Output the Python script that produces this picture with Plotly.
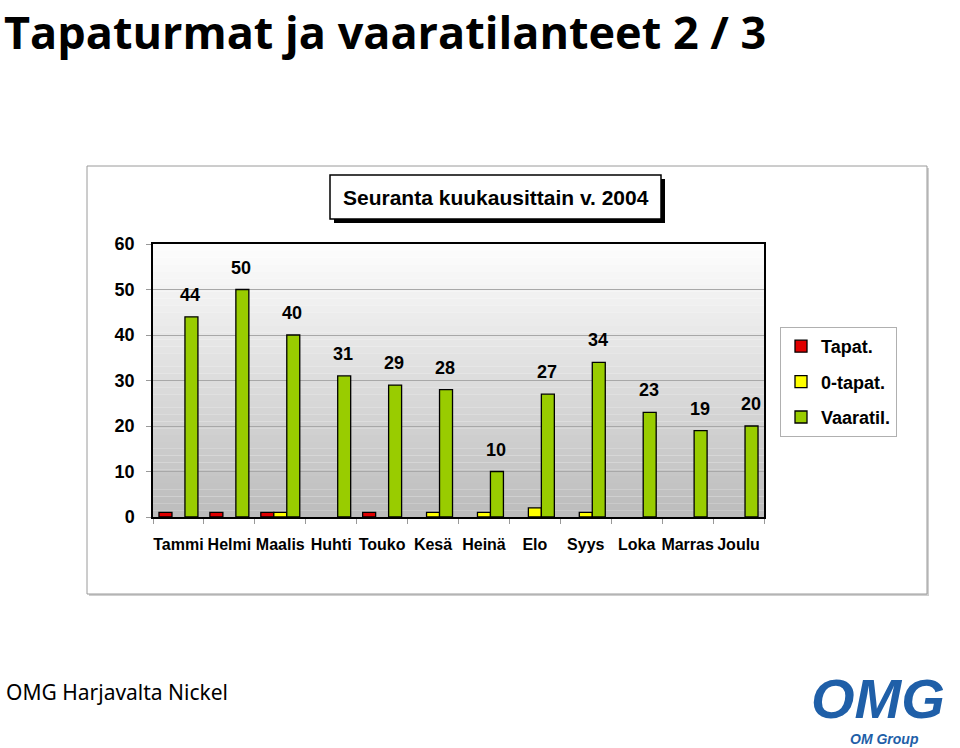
import plotly.graph_objects as go

months = ["Tammi", "Helmi", "Maalis", "Huhti", "Touko", "Kesä", "Heinä", "Elo", "Syys", "Loka", "Marras", "Joulu"]
tapat = [1, 1, 1, 0, 1, 0, 0, 0, 0, 0, 0, 0]
nolla_tapat = [0, 0, 1, 0, 0, 1, 1, 2, 1, 0, 0, 0]
vaaratil = [44, 50, 40, 31, 29, 28, 10, 27, 34, 23, 19, 20]
y_ticks = [0, 10, 20, 30, 40, 50, 60]

W, H = 960, 748
L, R, T, B = 153, 764, 244, 517  # plot area in pixels


def px(x):
    return (x - L) / (R - L)


def py(y):
    return (B - y) / (B - T)


def nz(vals):
    # zero values draw no bar (as in the original chart)
    return [v if v else None for v in vals]


FONT = "Liberation Sans"

fig = go.Figure()
fig.add_trace(go.Bar(x=months, y=nz(tapat), name="Tapat.", legendgroup="a",
                     marker=dict(color="#e00000", line=dict(color="black", width=1.3))))
fig.add_trace(go.Bar(x=months, y=nz(nolla_tapat), name="0-tapat.", legendgroup="b",
                     marker=dict(color="#ffff00", line=dict(color="black", width=1.3))))
fig.add_trace(go.Bar(x=months, y=nz(vaaratil), name="Vaaratil.", legendgroup="c",
                     marker=dict(color="#99cc00", line=dict(color="black", width=1.3))))

shapes = []
# outer chart frame (with faint shadow)
shapes.append(dict(type="rect", xref="paper", yref="paper", x0=px(89), x1=px(929), y0=py(596), y1=py(168),
                   fillcolor="#cfcfcf", line=dict(width=0), layer="below"))
shapes.append(dict(type="rect", xref="paper", yref="paper", x0=px(87), x1=px(927), y0=py(594), y1=py(166),
                   fillcolor="white", line=dict(color="#9a9a9a", width=1), layer="below"))
# gradient background of plot area
n = 40
for i in range(n):
    t = i / (n - 1)
    c = int(round(253 - t * (253 - 188)))
    shapes.append(dict(type="rect", xref="x domain", yref="y domain", x0=0, x1=1,
                       y0=1 - (i + 1) / n, y1=1 - i / n, fillcolor=f"rgb({c},{c},{c})",
                       line=dict(width=0), layer="below"))
# chart title box with shadow
shapes.append(dict(type="rect", xref="paper", yref="paper", x0=px(334), x1=px(665), y0=py(223), y1=py(179),
                   fillcolor="black", line=dict(width=0), layer="above"))
shapes.append(dict(type="rect", xref="paper", yref="paper", x0=px(330), x1=px(661), y0=py(219), y1=py(175),
                   fillcolor="white", line=dict(color="black", width=1.5), layer="above"))

annotations = []
for m, v in zip(months, vaaratil):
    annotations.append(dict(x=m, y=v, xref="x", yref="y", text=str(v), showarrow=False,
                            xshift=12, yshift=10, yanchor="bottom",
                            font=dict(family=FONT, size=18, color="black", weight="bold")))

annotations.append(dict(x=px(495.5), y=py(197), xref="paper", yref="paper", text="Seuranta kuukausittain v. 2004",
                        showarrow=False, xanchor="center", yanchor="middle",
                        font=dict(family=FONT, size=21, color="black", weight="bold")))

# page title
annotations.append(dict(x=px(3), y=py(0), xref="paper", yref="paper", text="Tapaturmat ja vaaratilanteet 2 / 3",
                        showarrow=False, xanchor="left", yanchor="top", borderpad=0,
                        font=dict(family="Open Sans", size=45, color="black", weight="bold")))
# footer
annotations.append(dict(x=px(4), y=py(692), xref="paper", yref="paper", text="OMG Harjavalta Nickel",
                        showarrow=False, xanchor="left", yanchor="middle",
                        font=dict(family="Noto Sans", size=21, color="black")))
# logo (approximation)
annotations.append(dict(x=px(878), y=py(698), xref="paper", yref="paper", text="<i><b>OMG</b></i>",
                        showarrow=False, xanchor="center", yanchor="middle",
                        font=dict(family="Liberation Sans", size=56, color="#1f5fa8")))
annotations.append(dict(x=px(884), y=py(739), xref="paper", yref="paper", text="<i><b>OM Group</b></i>",
                        showarrow=False, xanchor="center", yanchor="middle",
                        font=dict(family="Liberation Sans", size=14, color="#1f5fa8")))

fig.update_layout(
    width=W, height=H,
    margin=dict(l=L, r=W - R, t=T, b=H - B, pad=0),
    paper_bgcolor="white", plot_bgcolor="white",
    barmode="group", bargap=0.235, bargroupgap=0,
    showlegend=True,
    legend=dict(x=px(780), y=py(327), xanchor="left", yanchor="top",
                bgcolor="white", bordercolor="#b0b0b0", borderwidth=1,
                font=dict(family=FONT, size=18, color="black", weight="bold"),
                itemwidth=30, tracegroupgap=9),
    shapes=shapes, annotations=annotations,
    font=dict(family=FONT),
)
fig.update_xaxes(showline=True, linecolor="black", linewidth=1.5, mirror=True,
                 ticks="outside", tickson="boundaries", ticklen=5, tickcolor="#999999",
                 tickangle=0,
                 tickfont=dict(family=FONT, size=16, color="black", weight="bold"),
                 ticklabelstandoff=12)
fig.update_yaxes(range=[0, 60], tickvals=y_ticks, showline=True, linecolor="black", linewidth=1.5, mirror=True,
                 showgrid=True, gridcolor="#a8a8a8", gridwidth=1, zeroline=False,
                 ticks="outside", ticklen=5, tickcolor="#999999",
                 tickfont=dict(family=FONT, size=18, color="black", weight="bold"),
                 ticklabelstandoff=8)

fig.write_html("out.html")
